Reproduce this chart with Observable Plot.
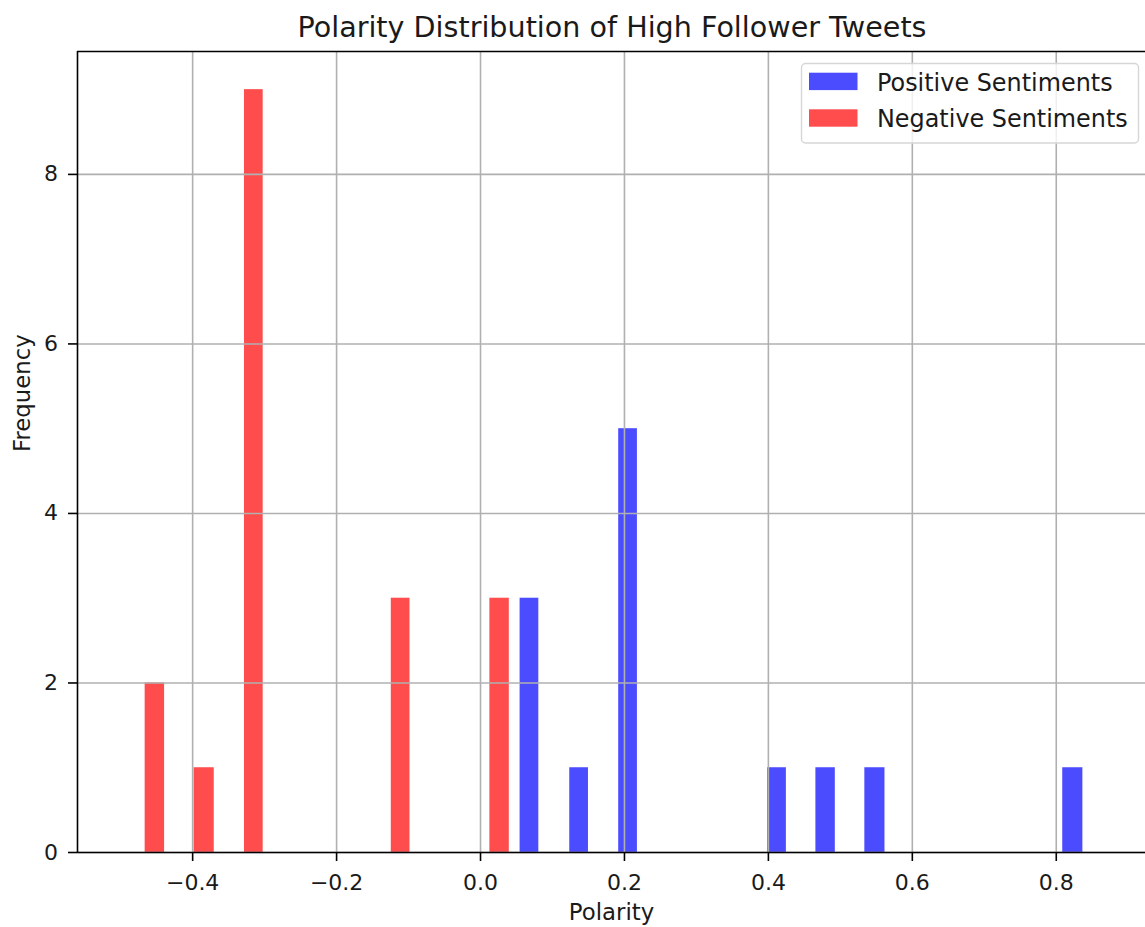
<!DOCTYPE html>
<html>
<head>
<meta charset="utf-8">
<script src="https://cdn.jsdelivr.net/npm/d3@7"></script>
<script src="https://cdn.jsdelivr.net/npm/@observablehq/plot@0.6"></script>
<style>
  html, body { margin: 0; padding: 0; background: #fff; }
  #wrap { position: relative; width: 1145px; height: 927px; font-family: "DejaVu Sans", sans-serif; overflow: hidden; }
  #overlay { position: absolute; left: 0; top: 0; }
</style>
</head>
<body>
<div id="wrap">
  <div id="chart"></div>
  <svg id="overlay" width="1145" height="927"></svg>
</div>
<script>
// Data (bin edges and counts)
const titleText = "Polarity Distribution of High Follower Tweets";
const seriesNames = ["Positive Sentiments", "Negative Sentiments"];
const seriesColors = ["#0000ff", "#ff0000"];
const posLo = [0.055, 0.124, 0.192, 0.399, 0.466, 0.534, 0.809];
const posHi = [0.081, 0.150, 0.218, 0.425, 0.493, 0.562, 0.837];
const posCount = [3, 1, 5, 1, 1, 1, 1];
const negLo = [-0.466, -0.398, -0.328, -0.124, 0.013];
const negHi = [-0.439, -0.370, -0.302, -0.098, 0.040];
const negCount = [2, 1, 9, 3, 3];
const xTicks = [-0.4, -0.2, 0.0, 0.2, 0.4, 0.6, 0.8];
const yTicks = [0, 2, 4, 6, 8];

const bins = [
  ...posLo.map((lo, i) => ({series: seriesNames[0], lo, hi: posHi[i], count: posCount[i]})),
  ...negLo.map((lo, i) => ({series: seriesNames[1], lo, hi: negHi[i], count: negCount[i]}))
];

const xDomain = [-0.560, 0.924];
const yDomain = [0, 9.45];
const fmtX = d => d.toFixed(1).replace("-", "\u2212");
const fmtY = d => String(d);
const lw = 1.6;
const textColor = "#1a1a1a";

const chart = Plot.plot({
  width: 1145,
  height: 927,
  marginLeft: 77,
  marginRight: 0,
  marginTop: 51,
  marginBottom: 75,
  style: { fontFamily: "DejaVu Sans, sans-serif", fontSize: "22px", background: "#fff", color: textColor },
  x: { domain: xDomain },
  y: { domain: yDomain },
  color: { domain: seriesNames, range: seriesColors },
  marks: [
    Plot.rect(bins, { x1: "lo", x2: "hi", y1: 0, y2: "count", fill: "series", fillOpacity: 0.7, inset: 0 }),
    Plot.gridX(xTicks, { stroke: "#b0b0b0", strokeOpacity: 1, strokeWidth: lw }),
    Plot.gridY(yTicks, { stroke: "#b0b0b0", strokeOpacity: 1, strokeWidth: lw }),
    Plot.ruleY([yDomain[0]], { stroke: "#000", strokeWidth: lw }),
    Plot.ruleY([yDomain[1]], { stroke: "#000", strokeWidth: lw }),
    Plot.ruleX([xDomain[0]], { stroke: "#000", strokeWidth: lw }),
    Plot.axisX(xTicks, { tickSize: 9, tickPadding: 13, tickFormat: fmtX, fontSize: 22, label: null, strokeWidth: lw, stroke: "#000", fill: textColor }),
    Plot.axisY(yTicks, { tickSize: 9, tickPadding: 10.5, tickFormat: fmtY, fontSize: 22, label: null, strokeWidth: lw, stroke: "#000", fill: textColor }),
    Plot.text(["Polarity"], { frameAnchor: "bottom", dy: 67, fontSize: 22.8, fill: textColor }),
    Plot.text(["Frequency"], { frameAnchor: "left", dx: -55, rotate: -90, fontSize: 22.8, fill: textColor })
  ]
});
document.getElementById("chart").appendChild(chart);

// Title and legend overlay
const ov = d3.select("#overlay").style("font-family", "DejaVu Sans, sans-serif");
ov.append("text").attr("x", 612).attr("y", 37).attr("text-anchor", "middle")
  .attr("font-size", 28.6).attr("fill", textColor).text(titleText);

const lg = ov.append("g");
lg.append("rect").attr("x", 801.5).attr("y", 63.5).attr("width", 337).attr("height", 79.5)
  .attr("rx", 4).attr("fill", "#fff").attr("fill-opacity", 0.8).attr("stroke", "#d6d6d6").attr("stroke-width", 1.4);
seriesNames.forEach((name, i) => {
  const y0 = i === 0 ? 72.7 : 109.3;
  lg.append("rect").attr("x", 809).attr("y", y0).attr("width", 48.5).attr("height", 17.4)
    .attr("fill", seriesColors[i]).attr("fill-opacity", 0.7);
  lg.append("text").attr("x", 877).attr("y", y0 + 18).attr("font-size", 23.9).attr("fill", textColor).text(name);
});
</script>
</body>
</html>
